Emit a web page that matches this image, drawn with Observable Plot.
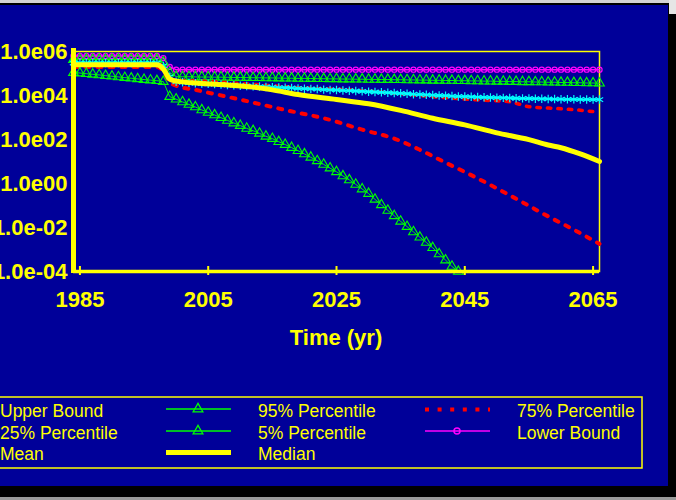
<!DOCTYPE html>
<html>
<head>
<meta charset="utf-8">
<script src="https://cdn.jsdelivr.net/npm/d3@7"></script>
<script src="https://cdn.jsdelivr.net/npm/@observablehq/plot@0.6"></script>
<style>
  html, body { margin: 0; padding: 0; }
  body { width: 676px; height: 500px; background: #000; position: relative; overflow: hidden;
         font-family: "Liberation Sans", Arial, sans-serif; }
  #topstrip { position: absolute; left: 0; top: 0; width: 676px; height: 3px; background: #d4d4d4; }
  #topright { position: absolute; left: 669px; top: 0; width: 7px; height: 14px; background: #e6e6e6; }
  #bottomstrip { position: absolute; left: 0; top: 497px; width: 676px; height: 3px; background: #9a9a9a; }
  #panel { position: absolute; left: 0; top: 5px; width: 668px; height: 481px; background: #000099; overflow: hidden; }
  #chart { position: absolute; left: 0; top: 0; }
  #chart svg text { font-family: "Liberation Sans", Arial, sans-serif; font-size: 22px; font-weight: bold; fill: #ffff00; }
  #xtitle { position: absolute; left: 0; top: 322px; width: 672px; text-align: center;
            font: bold 22px/22px "Liberation Sans", Arial, sans-serif; color: #ffff00; }
  #legend { position: absolute; left: 0; top: 385px; }
</style>
</head>
<body>
<div id="topstrip"></div>
<div id="topright"></div>
<div id="bottomstrip"></div>
<div id="panel">
  <div id="chart"></div>
  <div id="xtitle">Time (yr)</div>
  <svg id="legend" width="668" height="95"></svg>
</div>
<script>
// ---------------- data ----------------
const years = [1984,1985,1986,1987,1988,1989,1990,1991,1992,1993,1994,1995,1996,1997,1998,1999,
  2000,2001,2002,2003,2004,2005,2006,2007,2008,2009,2010,2011,2012,2013,2014,2015,2016,2017,2018,2019,
  2020,2021,2022,2023,2024,2025,2026,2027,2028,2029,2030,2031,2032,2033,2034,2035,2036,2037,2038,2039,
  2040,2041,2042,2043,2044,2045,2046,2047,2048,2049,2050,2051,2052,2053,2054,2055,2056,2057,2058,2059,
  2060,2061,2062,2063,2064,2065,2066];

// Upper Bound (magenta, circles)
const upperBound = [6.3e5,6.3e5,6.3e5,6.3e5,6.3e5,6.3e5,6.3e5,6.3e5,6.3e5,6.3e5,6.3e5,6.3e5,6.3e5,6.3e5,5.0e5,2.0e5,
  1.5e5,1.5e5,1.5e5,1.5e5,1.5e5,1.5e5,1.5e5,1.5e5,1.5e5,1.5e5,1.5e5,1.5e5,1.5e5,1.5e5,1.5e5,1.5e5,1.5e5,1.5e5,1.5e5,1.5e5,
  1.5e5,1.5e5,1.5e5,1.5e5,1.5e5,1.5e5,1.5e5,1.5e5,1.5e5,1.5e5,1.5e5,1.5e5,1.5e5,1.5e5,1.5e5,1.5e5,1.5e5,1.5e5,1.5e5,1.5e5,
  1.5e5,1.5e5,1.5e5,1.5e5,1.5e5,1.5e5,1.5e5,1.5e5,1.5e5,1.5e5,1.5e5,1.5e5,1.5e5,1.5e5,1.5e5,1.5e5,1.5e5,1.5e5,1.5e5,1.5e5,
  1.5e5,1.5e5,1.5e5,1.5e5,1.5e5,1.5e5,1.5e5];

// 95% Percentile (green, triangles)
const p95 = [4.3e5,4.3e5,4.3e5,4.3e5,4.3e5,4.3e5,4.3e5,4.3e5,4.3e5,4.3e5,4.3e5,4.3e5,4.3e5,4.3e5,3.3e5,1.1e5,
  7.2e4,7.1e4,7.1e4,7.0e4,6.9e4,6.9e4,6.8e4,6.8e4,6.7e4,6.6e4,6.6e4,6.5e4,6.4e4,6.4e4,6.3e4,6.3e4,6.2e4,6.1e4,6.1e4,6.0e4,
  6.0e4,5.9e4,5.8e4,5.8e4,5.7e4,5.7e4,5.6e4,5.6e4,5.5e4,5.5e4,5.4e4,5.4e4,5.3e4,5.3e4,5.2e4,5.2e4,5.1e4,5.1e4,5.0e4,5.0e4,
  4.9e4,4.9e4,4.8e4,4.8e4,4.7e4,4.7e4,4.6e4,4.6e4,4.5e4,4.5e4,4.4e4,4.4e4,4.3e4,4.3e4,4.2e4,4.2e4,4.1e4,4.1e4,4.0e4,4.0e4,
  3.9e4,3.9e4,3.8e4,3.8e4,3.7e4,3.7e4,3.6e4];

// Mean (cyan, asterisks)
const mean = [3.0e5,3.0e5,3.0e5,3.0e5,3.0e5,3.0e5,3.0e5,3.0e5,3.0e5,3.0e5,3.0e5,3.0e5,3.0e5,3.0e5,2.2e5,7.0e4,
  4.2e4,4.0e4,3.8e4,3.6e4,3.5e4,3.4e4,3.3e4,3.2e4,3.0e4,2.95e4,2.8e4,2.7e4,2.6e4,2.55e4,2.45e4,2.4e4,2.3e4,2.25e4,2.2e4,2.1e4,
  2.05e4,2.0e4,1.95e4,1.85e4,1.8e4,1.78e4,1.7e4,1.66e4,1.6e4,1.55e4,1.48e4,1.44e4,1.4e4,1.35e4,1.3e4,1.25e4,1.2e4,1.15e4,1.12e4,1.07e4,
  1.05e4,1.0e4,9.8e3,9.4e3,9.1e3,8.9e3,8.7e3,8.5e3,8.3e3,8.1e3,8.0e3,7.8e3,7.7e3,7.5e3,7.4e3,7.3e3,7.2e3,7.1e3,7.0e3,6.9e3,
  6.8e3,6.7e3,6.7e3,6.6e3,6.6e3,6.5e3,6.5e3];

// 5% Percentile (green, triangles) - reaches the axis floor about 2044
const p5 = [1.1e5,1.05e5,9.8e4,9.2e4,8.6e4,8.0e4,7.5e4,7.0e4,6.5e4,6.1e4,5.7e4,5.3e4,5.0e4,4.7e4,4.3e4,8.9e3,
  6.8e3,5.1e3,3.9e3,3.0e3,2.2e3,1.7e3,1.3e3,9.8e2,7.4e2,5.6e2,4.3e2,3.2e2,2.5e2,1.9e2,1.4e2,1.1e2,79,59,43,31,
  22,15.5,10.7,7.4,5.0,3.4,2.2,1.45,0.91,0.56,0.35,0.19,0.107,0.060,0.034,0.019,0.011,6.3e-3,3.6e-3,2.1e-3,
  1.2e-3,6.3e-4,3.3e-4,1.7e-4,1.0e-4,null,null,null,null,null,null,null,null,null,null,null,null,null,null,null,
  null,null,null,null,null,null,null];

// Median (yellow, thick)
const medianYears  = [1984,1997,1998,1999,2000,2004,2008,2012,2015,2019,2025,2030,2035,2040,2045,2050,2055,2058,2060,2063,2066];
const medianValues = [2.5e5,2.5e5,1.6e5,5.6e4,4.5e4,3.5e4,3.0e4,2.4e4,1.8e4,1.1e4,6.6e3,4.2e3,2.1e3,930,460,200,98,56,42,22,10];

// 75% Percentile (red dotted, upper)
const p75Years  = [1984,1997,1998,1999,2000,2005,2010,2015,2020,2027,2035,2042,2047,2052,2055,2060,2064,2066];
const p75Values = [2.8e5,2.8e5,2.0e5,6.3e4,5.0e4,4.4e4,3.5e4,2.8e4,2.2e4,1.8e4,1.2e4,7.9e3,6.3e3,5.2e3,3.1e3,2.5e3,2.0e3,1.7e3];

// 25% Percentile (red dotted, lower)
const p25Years  = [1984,1997,1998,1999,2000,2003,2010,2017,2024,2029,2034,2038,2042,2046,2050,2054,2058,2062,2066];
const p25Values = [2.0e5,2.0e5,1.26e5,4.0e4,2.8e4,1.8e4,6.5e3,2.2e3,780,280,110,34,8.9,2.4,0.6,0.14,0.032,7.9e-3,1.8e-3];

const xDomain = [1984, 2066];
const yDomain = [1e-4, 1e6];
const xTicks = [1985, 2005, 2025, 2045, 2065];
const yTicks = [1e-4, 1e-2, 1, 1e2, 1e4, 1e6];

const legendCol1 = ["Upper Bound", "25% Percentile", "Mean"];
const legendCol2 = ["95% Percentile", "5% Percentile", "Median"];
const legendCol3 = ["75% Percentile", "Lower Bound"];

// ---------------- chart ----------------
const YEL = "#ffff00", GRN = "#00ff00", CYN = "#00ffff", MAG = "#ff00ff", RED = "#ff0000";

const rowsOf = (xs, vs) => xs.map((year, i) => ({year, value: vs[i]})).filter(d => d.value != null);
const upperRows = rowsOf(years, upperBound);
const p95Rows = rowsOf(years, p95);
const meanRows = rowsOf(years, mean);
const p5Rows = rowsOf(years, p5);
const medianRows = rowsOf(medianYears, medianValues);
const p75Rows = rowsOf(p75Years, p75Values);
const p25Rows = rowsOf(p25Years, p25Values);

const fmtExp = d => {
  const e = Math.round(Math.log10(d));
  return "1.0e" + (e < 0 ? "-" : "") + String(Math.abs(e)).padStart(2, "0");
};

const chart = Plot.plot({
  width: 668, height: 380,
  marginLeft: 73, marginRight: 69, marginTop: 46, marginBottom: 114,
  style: {background: "none", color: YEL, fontSize: "22px", fontWeight: "bold",
          fontFamily: "Liberation Sans, Arial, sans-serif", overflow: "visible"},
  x: {domain: xDomain, ticks: xTicks, tickFormat: d => String(d), tickSize: 0, tickPadding: 20, label: null},
  y: {type: "log", domain: yDomain, ticks: yTicks, tickFormat: fmtExp, tickSize: 0, tickPadding: 6, label: null},
  marks: [
    Plot.frame({stroke: YEL, strokeWidth: 1.5}),
    Plot.line(upperRows, {x: "year", y: "value", stroke: MAG, strokeWidth: 1.5}),
    Plot.dot(upperRows, {x: "year", y: "value", r: 2.6, stroke: MAG, fill: "none", strokeWidth: 1.2}),
    Plot.line(p95Rows, {x: "year", y: "value", stroke: GRN, strokeWidth: 1}),
    Plot.dot(p95Rows, {x: "year", y: "value", symbol: "triangle", r: 3.6, stroke: GRN, fill: "none", strokeWidth: 1.1}),
    Plot.line(p75Rows, {x: "year", y: "value", stroke: RED, strokeWidth: 3.5, strokeDasharray: "3.5,7", curve: "monotone-x"}),
    Plot.line(p25Rows, {x: "year", y: "value", stroke: RED, strokeWidth: 4, strokeDasharray: "4,8", curve: "monotone-x"}),
    Plot.line(p5Rows, {x: "year", y: "value", stroke: GRN, strokeWidth: 1}),
    Plot.dot(p5Rows, {x: "year", y: "value", symbol: "triangle", r: 3.6, stroke: GRN, fill: "none", strokeWidth: 1.1}),
    Plot.line(meanRows, {x: "year", y: "value", stroke: CYN, strokeWidth: 2}),
    Plot.dot(meanRows, {x: "year", y: "value", symbol: "asterisk", r: 4, stroke: CYN, strokeWidth: 1.2}),
    Plot.line(medianRows, {x: "year", y: "value", stroke: YEL, strokeWidth: 5, curve: "monotone-x"}),
    Plot.ruleX([xDomain[0]], {stroke: YEL, strokeWidth: 5, insetTop: -3, insetBottom: -2}),
    Plot.ruleY([yDomain[0]], {stroke: YEL, strokeWidth: 3.5}),
    Plot.ruleX(xTicks, {y1: yDomain[0], y2: yDomain[0], insetTop: -5, insetBottom: -4, stroke: YEL, strokeWidth: 2})
  ]
});
document.getElementById("chart").appendChild(chart);

// ---------------- legend ----------------
const lg = d3.select("#legend");
lg.append("rect").attr("x", -5).attr("y", 7).attr("width", 647).attr("height", 71)
  .attr("fill", "none").attr("stroke", YEL).attr("stroke-width", 1.5);
const rowBase = [27, 49, 70];
const colText = [0, 258, 517];
const txt = (x, y, s) => lg.append("text").attr("x", x).attr("y", y).text(s)
  .attr("fill", YEL).attr("font-family", "Liberation Sans, Arial, sans-serif").attr("font-size", 17.5);
legendCol1.forEach((s, i) => txt(colText[0], rowBase[i], s));
legendCol2.forEach((s, i) => txt(colText[1], rowBase[i], s));
legendCol3.forEach((s, i) => txt(colText[2], rowBase[i], s));

const seg = (x1, x2, y, stroke, w, dash) => {
  const l = lg.append("line").attr("x1", x1).attr("x2", x2).attr("y1", y).attr("y2", y)
    .attr("stroke", stroke).attr("stroke-width", w);
  if (dash) l.attr("stroke-dasharray", dash);
};
const tri = d3.symbol(d3.symbolTriangle, Math.PI * 3.6 * 3.6);
// 95% Percentile
seg(166, 231, rowBase[0] - 8, GRN, 1.6);
lg.append("path").attr("d", tri()).attr("transform", `translate(198,${rowBase[0] - 8})`)
  .attr("fill", "none").attr("stroke", GRN).attr("stroke-width", 1.3);
// 5% Percentile
seg(166, 231, rowBase[1] - 8, GRN, 1.6);
lg.append("path").attr("d", tri()).attr("transform", `translate(198,${rowBase[1] - 8})`)
  .attr("fill", "none").attr("stroke", GRN).attr("stroke-width", 1.3);
// Median
seg(166, 231, rowBase[2] - 7.5, YEL, 5);
// 75% Percentile
seg(425, 490, rowBase[0] - 7.5, RED, 4, "4,8.6");
// Lower Bound
seg(425, 490, rowBase[1] - 8, MAG, 1.6);
lg.append("circle").attr("cx", 457).attr("cy", rowBase[1] - 8).attr("r", 3)
  .attr("fill", "none").attr("stroke", MAG).attr("stroke-width", 1.5);
</script>
</body>
</html>
